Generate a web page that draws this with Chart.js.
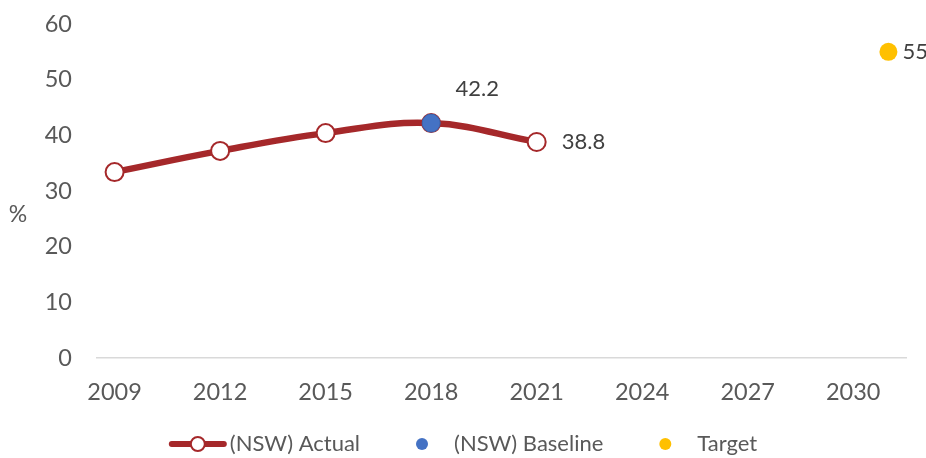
<!DOCTYPE html>
<html>
<head>
<meta charset="utf-8">
<script src="https://cdn.jsdelivr.net/npm/chart.js@4.4.1/dist/chart.umd.min.js"></script>
<style>
  body { margin: 0; background: #fff; }
  canvas { display: block; }
</style>
</head>
<body>
<canvas id="chart" width="926" height="458"></canvas>
<script>
const years = [2009, 2012, 2015, 2018, 2021];
const actual = [33.4, 37.2, 40.4, 42.2, 38.8];
const baselineYear = [2018];
const baseline = [42.2];
const targetYear = [2031];
const target = [55];
const xTicks = [2009, 2012, 2015, 2018, 2021, 2024, 2027, 2030];

const RED = "#a5282a";
const FONT = "Lato, 'Open Sans', sans-serif";

const toPoints = (xs, ys) => xs.map((x, i) => ({ x, y: ys[i] }));

// labels drawn next to some points, plus the "%" title and the legend
const extras = {
  id: "extras",
  afterDatasetsDraw(chart) {
    const ctx = chart.ctx;
    const xs = chart.scales.x, ys = chart.scales.y;
    ctx.save();
    ctx.fillStyle = "#404040";
    ctx.font = "22px " + FONT;
    ctx.textBaseline = "middle";

    // value labels
    ctx.textAlign = "center";
    ctx.fillText(baseline[0].toFixed(1), xs.getPixelForValue(baselineYear[0]) + 46, ys.getPixelForValue(baseline[0]) - 34);
    ctx.textAlign = "left";
    const last = actual.length - 1;
    ctx.fillText(actual[last].toFixed(1), xs.getPixelForValue(years[last]) + 25, ys.getPixelForValue(actual[last]));
    ctx.fillText(String(target[0]), xs.getPixelForValue(targetYear[0]) + 14, ys.getPixelForValue(target[0]));

    // axis title
    ctx.fillStyle = "#595959";
    ctx.textAlign = "center";
    ctx.font = "23px " + FONT;
    ctx.fillText("%", 18, 215);

    // legend
    const items = [
      { label: "(NSW) Actual", kind: "line" },
      { label: "(NSW) Baseline", kind: "dot", color: "#4472c4" },
      { label: "Target", kind: "dot", color: "#ffc000" }
    ];
    ctx.font = "22px " + FONT;
    const box = 58, gap = 3, spacing = 33;
    let total = 0;
    items.forEach((it, i) => {
      it.w = ctx.measureText(it.label).width;
      total += box + gap + it.w + (i ? spacing : 0);
    });
    let x = (chart.width - total) / 2;
    const y = 444;
    items.forEach(it => {
      const cx = x + box / 2;
      if (it.kind === "line") {
        ctx.strokeStyle = RED;
        ctx.lineWidth = 6;
        ctx.lineCap = "round";
        ctx.beginPath();
        ctx.moveTo(x + 3, y);
        ctx.lineTo(x + box - 3, y);
        ctx.stroke();
        ctx.beginPath();
        ctx.arc(cx, y, 7, 0, Math.PI * 2);
        ctx.fillStyle = "#fff";
        ctx.fill();
        ctx.lineWidth = 2;
        ctx.stroke();
      } else {
        ctx.beginPath();
        ctx.arc(cx, y, 6, 0, Math.PI * 2);
        ctx.fillStyle = it.color;
        ctx.fill();
      }
      ctx.fillStyle = "#595959";
      ctx.textAlign = "left";
      ctx.fillText(it.label, x + box + gap, y);
      x += box + gap + it.w + spacing;
    });
    ctx.restore();
  }
};

new Chart(document.getElementById("chart"), {
  type: "line",
  data: {
    datasets: [
      {
        label: "(NSW) Baseline",
        data: toPoints(baselineYear, baseline),
        showLine: false,
        pointRadius: 9,
        pointBackgroundColor: "#4472c4",
        pointBorderColor: "#3b64ad",
        pointBorderWidth: 1,
        order: 0
      },
      {
        label: "(NSW) Actual",
        data: toPoints(years, actual),
        borderColor: RED,
        borderWidth: 6.5,
        tension: 0.4,
        pointRadius: 9,
        pointBackgroundColor: "#fff",
        pointBorderColor: RED,
        pointBorderWidth: 2,
        order: 1
      },
      {
        label: "Target",
        data: toPoints(targetYear, target),
        showLine: false,
        pointRadius: 9,
        pointBackgroundColor: "#ffc000",
        pointBorderWidth: 0,
        order: 2
      }
    ]
  },
  options: {
    responsive: false,
    animation: false,
    layout: { autoPadding: false, padding: { top: 24, right: 20, bottom: 0, left: 0 } },
    plugins: { legend: { display: false }, tooltip: { enabled: false } },
    scales: {
      x: {
        type: "linear",
        min: 2008.5,
        max: 2031.5,
        afterBuildTicks: s => { s.ticks = xTicks.map(v => ({ value: v })); },
        afterFit: s => { s.height = 100; },
        grid: { display: false, drawTicks: false },
        border: { color: "#d9d9d9", width: 1.5 },
        ticks: {
          autoSkip: false,
          maxRotation: 0,
          padding: 20,
          color: "#595959",
          font: { family: FONT, size: 23.5 },
          callback: v => String(v)
        }
      },
      y: {
        min: 0,
        max: 60,
        afterFit: s => { s.width = 97; s.paddingTop = 0; s.paddingBottom = 0; },
        grid: { display: false, drawTicks: false },
        border: { display: false },
        ticks: {
          stepSize: 10,
          padding: 25,
          color: "#595959",
          font: { family: FONT, size: 23.5 }
        }
      }
    }
  },
  plugins: [extras]
});
</script>
</body>
</html>
